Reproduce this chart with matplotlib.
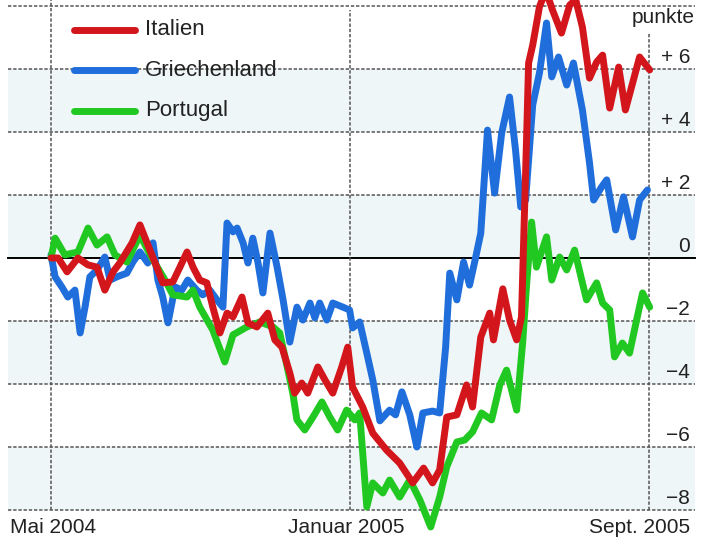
import matplotlib.pyplot as plt

plt.rcParams['font.family'] = ['Liberation Sans', 'DejaVu Sans']

# x: Monate seit Mai 2004, y: Renditeabstand in Prozentpunkten
it_x = [0, 0.19, 0.43, 0.72, 0.99, 1.23, 1.44, 1.66, 1.84, 2.17, 2.38, 2.57, 2.83, 2.99, 3.26, 3.45,
        3.64, 3.80, 3.98, 4.17, 4.33, 4.52, 4.71, 4.87, 5.11, 5.27, 5.51, 5.80, 5.99, 6.18, 6.39, 6.52,
        6.71, 6.87, 7.14, 7.33, 7.54, 7.78, 7.94, 8.07, 8.34, 8.61, 8.98, 9.33, 9.68, 9.97, 10.21, 10.40,
        10.59, 10.86, 11.12, 11.28, 11.50, 11.74, 11.84, 12.09, 12.27, 12.46, 12.59, 12.73, 12.78, 12.89,
        13.07, 13.24, 13.42, 13.66, 13.88, 14.04, 14.22, 14.41, 14.60, 14.76, 14.95, 15.19, 15.37, 15.75, 16.02]
it_y = [0, 0, -0.44, 0, -0.22, -0.29, -1.02, -0.44, -0.16, 0.48, 1.05, 0.48, -0.29, -0.79, -0.76, -0.29,
        0.19, -0.29, -0.70, -0.79, -1.56, -2.38, -1.75, -1.87, -1.24, -2.06, -2.19, -1.75, -2.60, -2.83, -3.65, -4.29,
        -3.97, -4.29, -3.46, -3.87, -4.29, -3.46, -2.83, -4.10, -4.73, -5.56, -6.10, -6.51, -7.14, -6.67, -7.14, -6.73,
        -5.05, -4.98, -4.03, -4.73, -2.51, -1.75, -2.60, -0.98, -1.97, -2.60, -1.87, 3.97, 6.19, 6.76,
        7.97, 8.5, 7.87, 7.14, 8.03, 8.2, 7.33, 5.71, 6.22, 6.44, 4.76, 6.06, 4.70, 6.38, 5.97]

gr_x = [0, 0.11, 0.29, 0.45, 0.64, 0.78, 0.91, 1.04, 1.23, 1.44, 1.58, 1.76, 2.03, 2.19, 2.38, 2.59,
        2.73, 2.86, 2.99, 3.13, 3.32, 3.50, 3.66, 3.90, 4.06, 4.25, 4.44, 4.60, 4.71, 4.87, 4.98, 5.14,
        5.27, 5.40, 5.54, 5.67, 5.86, 6.05, 6.21, 6.39, 6.58, 6.74, 6.93, 7.06, 7.19, 7.38, 7.54, 7.81,
        7.99, 8.07, 8.26, 8.45, 8.61, 8.80, 9.06, 9.22, 9.39, 9.60, 9.79, 9.95, 10.21, 10.40, 10.56, 10.67,
        10.86, 11.04, 11.20, 11.36, 11.50, 11.68, 11.87, 12.06, 12.27, 12.43, 12.57, 12.70, 12.89, 13.07,
        13.26, 13.40, 13.58, 13.80, 13.98, 14.22, 14.41, 14.52, 14.73, 14.87, 15.11, 15.32, 15.56, 15.75, 15.96]
gr_y = [0.10, -0.60, -0.92, -1.24, -1.02, -2.38, -1.56, -0.60, -0.38, 0.03, -0.70, -0.60, -0.48, -0.13, 0.19, -0.16,
        0.48, -0.70, -1.24, -2.06, -0.92, -1.02, -0.70, -1.02, -1.17, -1.02, -1.33, -1.56, 1.11, 0.83, 0.95, 0.48,
        -0.16, 0.63, -0.16, -1.11, 0.79, -0.29, -1.33, -2.67, -1.56, -1.97, -1.43, -1.90, -1.43, -1.97, -1.43, -1.56,
        -1.65, -2.22, -2.03, -3.02, -3.87, -5.17, -4.83, -4.98, -4.25, -4.98, -6.00, -4.92, -4.86, -4.92, -2.83, -0.48,
        -1.33, -0.13, -0.86, 0, 0.79, 4.06, 2.06, 3.97, 5.11, 3.43, 1.62, 1.84, 4.86, 5.87,
        7.46, 5.75, 6.38, 5.49, 6.19, 4.70, 3.02, 1.84, 2.25, 2.48, 0.89, 1.94, 0.67, 1.84, 2.16]

pt_x = [0, 0.11, 0.37, 0.72, 0.99, 1.23, 1.50, 1.71, 2.03, 2.38, 2.70, 3.05, 3.26, 3.64, 3.80, 3.98,
        4.33, 4.65, 4.87, 5.24, 5.59, 5.94, 6.12, 6.31, 6.47, 6.58, 6.79, 7.01, 7.25, 7.46, 7.67, 7.91,
        8.13, 8.26, 8.45, 8.61, 8.88, 9.06, 9.33, 9.60, 9.87, 10.16, 10.40, 10.59, 10.86, 11.07, 11.28, 11.52,
        11.79, 12.01, 12.19, 12.46, 12.62, 12.73, 12.86, 12.99, 13.26, 13.40, 13.61, 13.80, 14.01, 14.22,
        14.33, 14.60, 14.76, 14.95, 15.08, 15.29, 15.48, 15.67, 15.83, 16.02]
pt_y = [0, 0.63, 0.10, 0.19, 0.95, 0.41, 0.67, 0.10, -0.13, 0.73, 0, -0.70, -1.17, -1.24, -1.02, -1.56,
        -2.29, -3.30, -2.44, -2.19, -2.03, -2.19, -2.38, -3.40, -4.29, -5.14, -5.46, -5.05, -4.57, -5.05, -5.46, -4.83,
        -5.14, -4.92, -7.90, -7.14, -7.46, -7.05, -7.59, -7.05, -7.68, -8.54, -7.59, -6.63, -5.84, -5.78, -5.52, -4.92,
        -5.14, -4.03, -3.56, -4.83, -2.70, -0.79, 1.14, -0.29, 0.67, -0.70, 0.03, -0.38, 0.25, -0.79,
        -1.33, -0.79, -1.43, -1.65, -3.14, -2.70, -3.02, -1.97, -1.11, -1.56]

y_ticks = [6, 4, 2, 0, -2, -4, -6, -8]
y_labels = ['+ 6', '+ 4', '+ 2', '0', '\u22122', '\u22124', '\u22126', '\u22128']
x_ticks = [0, 8, 16]
x_labels = ['Mai 2004', 'Januar 2005', 'Sept. 2005']

red = '#d3161c'
blue = '#1f6edb'
green = '#22c822'
txt = '#222222'

fig = plt.figure(figsize=(7.02, 5.44), dpi=100)
ax = fig.add_axes([0, 0, 1, 1])
ax.set_xlim(-1.365, 17.42)
ax.set_ylim(-9.08, 8.19)
ax.axis('off')

# helle Baender
for lo, hi in [(4, 6), (0, 2), (-4, -2), (-8, -6)]:
    ax.axhspan(lo, hi, xmin=0.011, xmax=0.99, color='#eef6f7', lw=0, zorder=0)

# Gitter
for v in range(-8, 9, 2):
    if v == 0:
        ax.axhline(0, xmin=0.011, xmax=0.99, color='black', lw=1.4, zorder=1)
    else:
        ax.axhline(v, xmin=0.011, xmax=0.99, color='#555555', lw=1.1, ls=(0, (2.2, 1.2)), zorder=1)
for xt, top in zip(x_ticks, [1.0, 0.982, 0.94]):
    ax.axvline(xt, ymin=0.0625, ymax=top, color='#555555', lw=1.1, ls=(0, (2.2, 1.2)), zorder=1)

lw = 5
ax.plot(gr_x, gr_y, color=blue, lw=lw, solid_joinstyle='round', solid_capstyle='round', zorder=3)
ax.plot(pt_x, pt_y, color=green, lw=lw, solid_joinstyle='round', solid_capstyle='round', zorder=4)
ax.plot(it_x, it_y, color=red, lw=lw, solid_joinstyle='round', solid_capstyle='round', zorder=5)

# Legende
for name, col, yy in [('Italien', red, 0.945), ('Griechenland', blue, 0.871), ('Portugal', green, 0.796)]:
    ax.plot([0.105, 0.192], [yy, yy], color=col, lw=lw, solid_capstyle='round', transform=ax.transAxes, zorder=6)
    ax.text(0.207, yy, name, transform=ax.transAxes, va='center', ha='left', fontsize=16, color=txt, zorder=6)

# Achsenbeschriftung rechts
for v, lab in zip(y_ticks, y_labels):
    ax.text(17.1, v + 0.38, lab, ha='right', va='center', fontsize=15, color=txt)
ax.text(17.23, 7.62, 'punkte', ha='right', va='center', fontsize=15, color=txt)

# Zeitachse
ax.text(-1.1, -8.57, x_labels[0], ha='left', va='center', fontsize=15, color=txt)
ax.text(x_ticks[1] - 0.1, -8.57, x_labels[1], ha='center', va='center', fontsize=15, color=txt)
ax.text(17.1, -8.57, x_labels[2], ha='right', va='center', fontsize=15, color=txt)

fig.savefig('out.png', dpi=100)
